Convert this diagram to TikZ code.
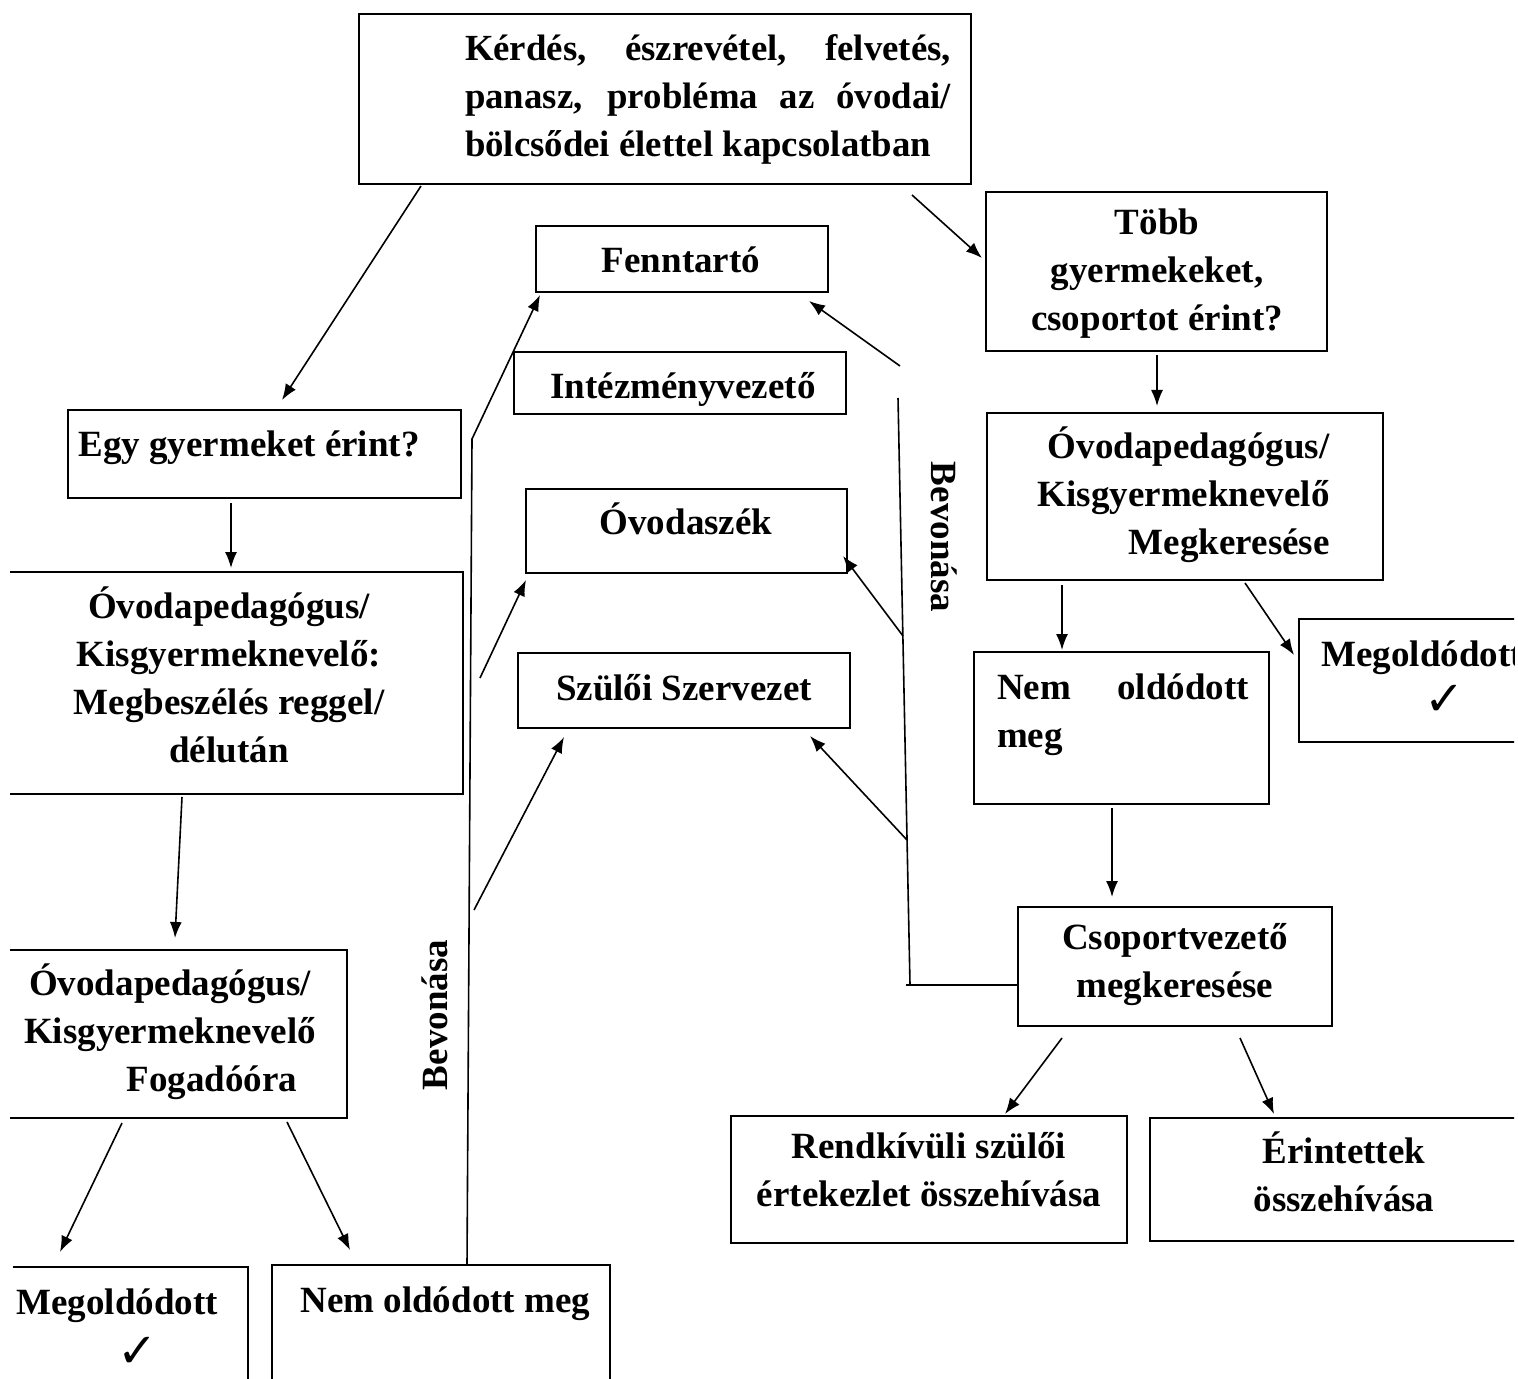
\documentclass[tikz,border=0pt]{standalone}
\usepackage{fontspec}
\setmainfont{Liberation Serif}
\newfontfamily\chkfont{DejaVu Sans}
\usetikzlibrary{arrows.meta,fit}
\begin{document}
\begin{tikzpicture}[x=0.5pt,y=-0.5pt,
  box/.style={draw, line width=1pt, inner sep=0pt},
  openbox/.style={draw=none, inner sep=0pt},
  side/.style={line width=1pt},
  txt/.style={font=\bfseries\fontsize{18.5}{24}\selectfont, inner sep=0pt, align=center,
              yshift=-1.5pt,
              execute at begin node=\strut, execute at end node=\strut},
  toptxt/.style={txt, font=\bfseries\fontsize{18.4}{24}\selectfont, text width=243pt, align=justify},
  arr/.style={line width=0.8pt, -{Latex[length=8pt,width=6pt]}},
  ln/.style={line width=0.8pt},
  chk/.style={font=\chkfont\fontsize{24}{24}\selectfont, inner sep=0pt}
]
\useasboundingbox (0,0) rectangle (1518,1379);
\clip (0,0) rectangle (1514,1379);

% ---------- boxes ----------
\node[box, fit={(359,14) (971,184)}] (q) {};
\node[box, fit={(536,226) (828,292)}] (fenn) {};
\node[box, fit={(514,352) (846,414)}] (intez) {};
\node[box, fit={(526,489) (847,573)}] (ovszek) {};
\node[box, fit={(518,653) (850,728)}] (szsz) {};
\node[box, fit={(986,192) (1327,351)}] (tobb) {};
\node[box, fit={(987,413) (1383,580)}] (megker) {};
\node[box, fit={(1299,619) (1540,742)}] (megoldR) {};
\node[box, fit={(974,652) (1269,804)}] (nemR) {};
\node[box, fit={(1018,907) (1332,1026)}] (csop) {};
\node[box, fit={(731,1116) (1127,1243)}] (rendk) {};
\node[box, fit={(1150,1118) (1540,1241)}] (erint) {};
\node[box, fit={(68,410) (461,498)}] (egy) {};
\node[openbox, fit={(10,572) (463,794)}] (megb) {};
\draw[side] (megb.north west) -- (megb.north east) -- (megb.south east) -- (megb.south west);
\node[openbox, fit={(10,950) (347,1118)}] (fogad) {};
\draw[side] (fogad.north west) -- (fogad.north east) -- (fogad.south east) -- (fogad.south west);
\node[openbox, fit={(13,1267) (248,1420)}] (megoldL) {};
\draw[side] (megoldL.north west) -- (megoldL.north east) -- (megoldL.south east);
\node[box, fit={(272,1265) (610,1420)}] (nemL) {};

% ---------- texts ----------
\node[toptxt] (qT) at (708,95.5) {Kérdés, észrevétel, felvetés,\linebreak panasz, probléma az óvodai/\linebreak bölcsődei élettel kapcsolatban};
\node[txt] (fennT) at (681,260) {Fenntartó};
\node[txt] (intezT) at (683,386) {Intézményvezető};
\node[txt] (ovszekT) at (686,522) {Óvodaszék};
\node[txt] (szszT) at (684,688) {Szülői Szervezet};
\node[txt] (tobbT) at (1157,274) {Több\\gyermekeket,\\csoportot érint?};
\node[txt, align=right, anchor=east] (megkerT) at (1330,494.7) {Óvodapedagógus/\\Kisgyermeknevelő\\Megkeresése};
\node[txt, anchor=west] (megoldRT) at (1321,654) {Megoldódott};
\node[chk] (chkR) at (1445,700) {✓};
\node[txt, text width=126pt, align=justify] (nemRT) at (1123,710.5) {Nem oldódott\linebreak meg};
\node[txt] (csopT) at (1175,965) {Csoportvezető\\megkeresése};
\node[txt] (rendkT) at (929,1174) {Rendkívüli szülői\\értekezlet összehívása};
\node[txt] (erintT) at (1344,1176) {Érintettek\\összehívása};
\node[txt, anchor=west] (egyT) at (78,444) {Egy gyermeket érint?};
\node[txt] (megbT) at (229,678.5) {Óvodapedagógus/\\Kisgyermeknevelő:\\Megbeszélés reggel/\\délután};
\node[txt] (fogadT) at (170,1032) {Óvodapedagógus/\\Kisgyermeknevelő\\\hspace*{42pt}Fogadóóra};
\node[txt, anchor=west] (megoldLT) at (16,1302) {Megoldódott};
\node[chk] (chkL) at (138,1352) {✓};
\node[txt, anchor=west] (nemLT) at (300,1300) {Nem oldódott meg};
\node[txt, yshift=1.5pt, rotate=90] (bevL) at (438,1015) {Bevonása};
\node[txt, yshift=1.5pt, rotate=-90] (bevR) at (941,537) {Bevonása};

% ---------- connector end points ----------
\coordinate (a1s) at (421,186);  \coordinate (a1e) at (282,400);
\coordinate (a2s) at (912,195);  \coordinate (a2e) at (982,258);
\coordinate (a3s) at (231,503);  \coordinate (a3e) at (231,568);
\coordinate (a4s) at (182,797);  \coordinate (a4e) at (175,938);
\coordinate (a5s) at (122,1123); \coordinate (a5e) at (60,1252);
\coordinate (a6s) at (287,1122); \coordinate (a6e) at (350,1250);
\coordinate (a7s) at (1157,355); \coordinate (a7e) at (1157,406);
\coordinate (a8s) at (1062,585); \coordinate (a8e) at (1062,650);
\coordinate (a9s) at (1245,583); \coordinate (a9e) at (1294,655);
\coordinate (a10s) at (1112,808); \coordinate (a10e) at (1112,897);
\coordinate (a11s) at (1062,1038); \coordinate (a11e) at (1005,1114);
\coordinate (a12s) at (1240,1038); \coordinate (a12e) at (1274,1114);
% left "Bevonasa" line
\coordinate (lb0) at (467,1265);
\coordinate (lb1) at (472,439);
\coordinate (lb2) at (540,295);
\coordinate (lo1) at (480,678);  \coordinate (lo2) at (526,580);
\coordinate (ls1) at (474,910);  \coordinate (ls2) at (564,737);
% right "Bevonasa" line
\coordinate (rb0) at (898,398);
\coordinate (rb1) at (910,985);
\coordinate (rb2) at (906,985);
\coordinate (rb3) at (1018,985);
\coordinate (rf1) at (900,366);  \coordinate (rf2) at (809,301);
\coordinate (ro1) at (903,636);  \coordinate (ro2) at (843,556);
\coordinate (rs1) at (907,840);  \coordinate (rs2) at (810,736);

% ---------- connectors ----------
\draw[arr] (a1s) -- (a1e);
\draw[arr] (a2s) -- (a2e);
\draw[arr] (a3s) -- (a3e);
\draw[arr] (a4s) -- (a4e);
\draw[arr] (a5s) -- (a5e);
\draw[arr] (a6s) -- (a6e);
\draw[arr] (a7s) -- (a7e);
\draw[arr] (a8s) -- (a8e);
\draw[arr] (a9s) -- (a9e);
\draw[arr] (a10s) -- (a10e);
\draw[arr] (a11s) -- (a11e);
\draw[arr] (a12s) -- (a12e);

\draw[arr] (lb0) -- (lb1) -- (lb2);
\draw[arr] (lo1) -- (lo2);
\draw[arr] (ls1) -- (ls2);

\draw[ln] (rb0) -- (rb1);
\draw[ln] (rb2) -- (rb3);
\draw[arr] (rf1) -- (rf2);
\draw[arr] (ro1) -- (ro2);
\draw[arr] (rs1) -- (rs2);
\end{tikzpicture}
\end{document}
